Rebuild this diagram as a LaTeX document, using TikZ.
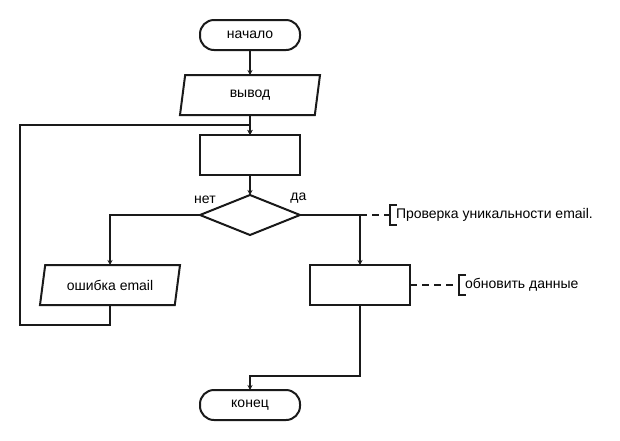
\documentclass[tikz,border=0pt]{standalone}
\usepackage{fontspec}
\setmainfont{Liberation Sans}
\usetikzlibrary{arrows.meta, positioning, calc, shapes.geometric}
\definecolor{flowline}{HTML}{1A1A1A}

\begin{document}
\begin{tikzpicture}[
    x=1pt, y=-1pt,
    line width=2pt, draw=flowline,
    font=\fontsize{14}{16}\selectfont,
    every node/.style={outer sep=0pt},
    term/.style={draw, rounded corners=14pt, minimum width=100pt, minimum height=30pt, inner sep=0pt},
    io/.style={draw, trapezium, trapezium left angle=63.4, trapezium right angle=116.6,
               trapezium stretches body, minimum width=140pt, minimum height=40pt, inner sep=0pt},
    proc/.style={draw, rectangle, minimum width=100pt, minimum height=40pt, inner sep=0pt},
    cond/.style={draw, diamond, minimum width=100pt, minimum height=40pt, inner sep=0pt},
    note/.style={minimum height=20pt, inner xsep=6pt, inner ysep=0pt},
    arr/.style={-{Stealth[length=5pt, width=5pt]}, line width=1.6pt},
    link/.style={line width=1.6pt},
    cmt/.style={dash pattern=on 7pt off 5pt, line width=1.6pt},
  ]
  \useasboundingbox (0,0) rectangle (620,440);

  % Main chain
  \node[term] (start) at (250,35) {начало};
  \node[io, below=25pt of start] (out) {вывод};
  \node[proc, below=20pt of out] (check) {};
  \node[cond, below=20pt of check] (dec) {};
  \node[anchor=south east] at ($(dec.west)+(19,-8)$) {нет};
  \node[anchor=south west] at ($(dec.east)+(-13,-8)$) {да};

  % Branches
  \node[io] (err) at (110,285) {ошибка email};
  \node[proc] (upd) at (360,285) {};
  \node[term] (stop) at (250,405) {конец};

  % Helper points
  \coordinate (yes) at (upd.north |- dec.east);
  \coordinate (join) at ($(out.south)!0.5!(check.north)$);
  \coordinate (back) at (20,325);

  % Comments
  \node[note, right=30pt of yes, anchor=west] (c1) {Проверка уникальности email.};
  \node[note, right=49pt of upd, anchor=west] (c2) {обновить данные};
  \draw[link] ([xshift=7pt]c1.north west) -- (c1.north west) -- (c1.south west) -- ++(7pt,0);
  \draw[link] ([xshift=7pt]c2.north west) -- (c2.north west) -- (c2.south west) -- ++(7pt,0);

  % Arrows
  \draw[arr] (start) -- (out);
  \draw[arr] (out) -- (check);
  \draw[arr] (check) -- (dec);
  \draw[arr] (dec.west) -| (err);
  \draw[link] (dec.east) -- (yes);
  \draw[arr] (yes) -- (upd);
  \draw[arr] (err.south) |- (back) |- (join) -- (check);
  \draw[arr] (upd.south) |- ($(stop.north)+(0,-14)$) -- (stop);
  \draw[cmt] (yes) -- (c1.west);
  \draw[cmt] (upd.east) -- (c2.west);

\end{tikzpicture}
\end{document}
